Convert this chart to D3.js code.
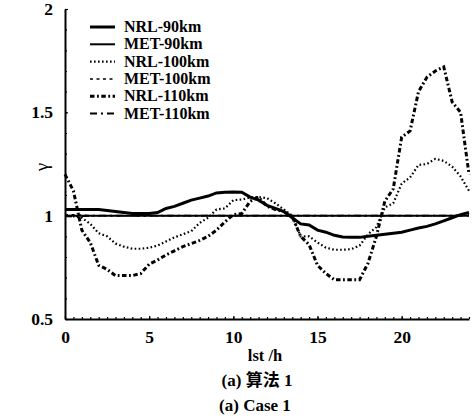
<!DOCTYPE html>
<meta charset="utf-8">
<style>
  body { margin: 0; background: white; }
  text { font-family: "Liberation Serif", "Noto Sans CJK SC", serif; fill: black; }
</style>
<script src="https://d3js.org/d3.v7.min.js"></script>
<body>
<div id="chart"></div>
<script>
// local solar time (h)
const lst = [0,0.5,1,1.5,2,2.5,3,3.5,4,4.5,5,5.5,6,6.5,7,7.5,8,8.5,9,9.5,10,10.5,11,11.5,12,
             12.5,13,13.5,14,14.5,15,15.5,16,16.5,17,17.5,18,18.5,19,19.5,20,20.5,21,21.5,22,22.5,23,23.5,24];

const nrl90  = [1.03,1.03,1.03,1.03,1.03,1.025,1.02,1.015,1.01,1.01,1.01,1.015,1.035,1.045,1.06,1.075,1.085,1.095,1.11,1.113,1.115,1.113,1.09,1.075,1.05,
                1.035,1.02,0.99,0.96,0.955,0.93,0.92,0.905,0.897,0.895,0.895,0.9,0.905,0.91,0.915,0.92,0.93,0.94,0.948,0.96,0.975,0.99,1.005,1.015];
const met90  = [1,1,1,1,1,1,1,1,1,1,1,1,1,1,1,1,1,1,1,1,1,1,1,1,1,
                1,1,1,1,1,1,1,1,1,1,1,1,1,1,1,1,1,1,1,1,1,1,1,1];
const nrl100 = [1.0,0.997,0.99,0.96,0.915,0.9,0.865,0.85,0.84,0.84,0.845,0.855,0.875,0.895,0.91,0.925,0.965,0.99,1.03,1.035,1.075,1.078,1.088,1.09,1.085,
                1.06,1.03,1.0,0.9,0.9,0.87,0.845,0.835,0.835,0.838,0.855,0.91,0.945,1.04,1.06,1.155,1.185,1.245,1.25,1.275,1.265,1.237,1.19,1.12];
const met100 = [1.005,1.005,1.003,1.0,1.0,1.0,1.0,1.0,1.0,1.0,1.0,1.0,1.0,1.0,1.0,1.0,1.0,1.0,1.0,1.0,1.0,1.0,1.0,1.0,1.0,
                1.0,1.0,1.0,1.0,1.0,1.0,1.0,1.0,1.0,1.0,1.0,1.0,1.0,1.0,1.0,1.0,1.0,1.0,1.0,1.0,1.0,1.0,1.003,1.005];
const nrl110 = [1.2,1.12,0.93,0.87,0.76,0.74,0.71,0.71,0.71,0.72,0.765,0.785,0.81,0.83,0.85,0.865,0.88,0.9,0.93,0.97,1.005,1.01,1.07,1.09,1.045,
                1.03,1.02,0.995,0.9,0.86,0.76,0.72,0.69,0.69,0.69,0.69,0.77,0.9,1.07,1.13,1.38,1.41,1.6,1.67,1.7,1.72,1.55,1.5,1.2];
const met110 = [0.997,0.997,0.998,1.0,1.0,1.0,1.0,1.0,1.0,1.0,1.0,1.0,1.0,1.0,1.0,1.0,1.0,1.0,1.0,1.0,1.0,1.0,1.0,1.0,1.0,
                1.0,1.0,1.0,1.0,1.0,1.0,1.0,1.0,1.0,1.0,1.0,1.0,1.0,1.0,1.0,1.0,1.0,1.0,1.0,1.0,1.0,1.0,1.0,1.0];

const seriesNames = ["NRL-90km","MET-90km","NRL-100km","MET-100km","NRL-110km","MET-110km"];
const seriesVals  = [nrl90, met90, nrl100, met100, nrl110, met110];
const xTicks = [0,5,10,15,20];
const yTicks = [0.5,1,1.5,2];

// line styles for each series
const styles = [
  {w: 3,   dash: null},
  {w: 2,   dash: null},
  {w: 2.2, dash: "1.6,2.4"},
  {w: 1.5, dash: "3,3.5"},
  {w: 3,   dash: "4.5,2.5,1.8,2.5"},
  {w: 1.8, dash: "7,4,2,4"}
];

const W = 472, H = 419;
const svg = d3.select("#chart").append("svg").attr("width", W).attr("height", H);

const x = d3.scaleLinear().domain([0, 24]).range([65, 469]);
const y = d3.scaleLinear().domain([0.5, 2]).range([319, 9]);

// curves (drawn first, axes on top)
const line = d3.line().x(d => x(d[0])).y(d => y(d[1]));
// MET first so NRL curves sit on top
[1,3,5,0,2,4].forEach(i => {
  svg.append("path")
    .datum(lst.map((h, k) => [h, seriesVals[i][k]]))
    .attr("d", line)
    .attr("fill", "none")
    .attr("stroke", "black")
    .attr("stroke-width", styles[i].w)
    .attr("stroke-dasharray", styles[i].dash);
});

// x axis: minor ticks every 0.5h, pointing up
const xMinor = d3.axisBottom(x).tickValues(d3.range(0, 24.01, 0.5)).tickSize(-2).tickFormat("").tickSizeOuter(0);
const gxm = svg.append("g").attr("transform", "translate(0,319)").call(xMinor);
const xMajor = d3.axisBottom(x).tickValues(xTicks).tickSize(-3).tickSizeOuter(0).tickPadding(12);
const gx = svg.append("g").attr("transform", "translate(0,319)").call(xMajor);

// y axis: minor ticks every 0.1, pointing right
const yMinor = d3.axisLeft(y).tickValues(d3.range(0.5, 2.001, 0.1)).tickSize(-2).tickFormat("").tickSizeOuter(0);
const gym = svg.append("g").attr("transform", "translate(65,0)").call(yMinor);
const yMajor = d3.axisLeft(y).tickValues(yTicks).tickSize(-3).tickSizeOuter(0).tickPadding(12)
  .tickFormat(d => d === 1 || d === 2 ? d3.format("d")(d) : d3.format(".1f")(d));
const gy = svg.append("g").attr("transform", "translate(65,0)").call(yMajor);

[gxm, gx, gym, gy].forEach(g => {
  g.select(".domain").attr("stroke", "black").attr("stroke-width", 2);
  g.selectAll(".tick line").attr("stroke", "black").attr("stroke-width", 1.2);
  g.selectAll("text").attr("font-size", 17.5).attr("font-weight", "bold")
    .attr("font-family", "Liberation Serif").attr("fill", "black");
});
gxm.select(".domain").remove();
gym.select(".domain").remove();

// axis titles
svg.append("text")
  .attr("transform", "translate(48,167) rotate(-90)")
  .attr("text-anchor", "middle")
  .attr("font-size", 19)
  .text("γ");

svg.append("text").attr("x", 265).attr("y", 361).attr("text-anchor", "middle")
  .attr("font-size", 16.5).attr("font-weight", "bold").text("lst /h");
svg.append("text").attr("x", 257).attr("y", 386).attr("text-anchor", "middle")
  .attr("font-size", 17).attr("font-weight", "bold").text("(a)  算法 1");
svg.append("text").attr("x", 255).attr("y", 411).attr("text-anchor", "middle")
  .attr("font-size", 17).attr("font-weight", "bold").text("(a)  Case 1");

// legend
const leg = svg.append("g");
seriesNames.forEach((name, i) => {
  const ly = 27 + i * 17.3;
  leg.append("line")
    .attr("x1", 90).attr("x2", 115).attr("y1", ly).attr("y2", ly)
    .attr("stroke", "black")
    .attr("stroke-width", styles[i].w)
    .attr("stroke-dasharray", styles[i].dash);
  leg.append("text")
    .attr("x", 124).attr("y", ly + 5)
    .attr("font-size", 16).attr("font-weight", "bold")
    .text(name);
});
</script>
</body>
